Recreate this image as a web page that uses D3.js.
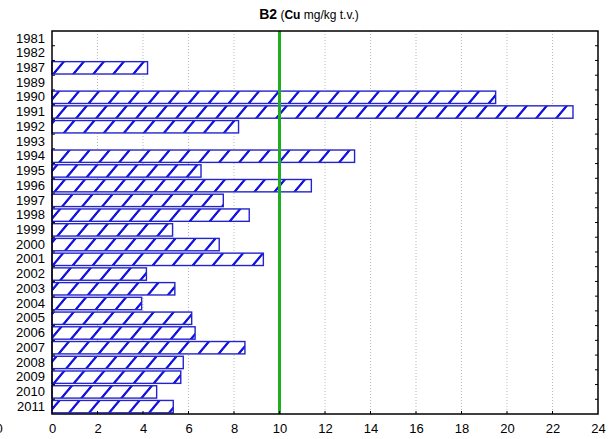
<!DOCTYPE html>
<html><head><meta charset="utf-8">
<script src="https://cdn.jsdelivr.net/npm/d3@7"></script>
<style>body{margin:0;background:#fff}svg{display:block}text{font-family:"Liberation Sans",Arial,sans-serif}</style>
</head><body><svg id="c" width="610" height="439"></svg>
<script>
const years = ["1981","1982","1987","1989","1990","1991","1992","1993","1994","1995","1996","1997","1998","1999","2000","2001","2002","2003","2004","2005","2006","2007","2008","2009","2010","2011"];
const values = [null,null,4.2,null,19.5,22.9,8.2,null,13.3,6.55,11.4,7.53,8.67,5.3,7.35,9.29,4.15,5.4,3.94,6.14,6.29,8.48,5.77,5.66,4.6,5.33];
const xTicks = [0,2,4,6,8,10,12,14,16,18,20,22,24];
const limit = 10;

const svg = d3.select("#c");
const L=52, R=598, T=31, B=414;
const x = d3.scaleLinear().domain([0,24]).range([L,R]);
const y = d3.scaleBand().domain(years).range([T,B]).paddingInner(0.16).paddingOuter(0.08);
const step = y.step();

const defs = svg.append("defs");
const pat = defs.append("pattern").attr("id","hatch").attr("patternUnits","userSpaceOnUse")
  .attr("width",20).attr("height",20).attr("patternTransform","translate(52,0) skewX(-40)");
pat.append("rect").attr("width",20).attr("height",20).attr("fill","#fff");
pat.append("rect").attr("x",2).attr("width",3).attr("height",20).attr("fill","#1414e0");

// grid
svg.append("g").selectAll("line").data(xTicks.filter(d=>d>0&&d<24)).join("line")
  .attr("x1",d=>x(d)).attr("x2",d=>x(d)).attr("y1",T).attr("y2",B)
  .attr("stroke","#b8b8b8").attr("stroke-dasharray","1,2");

// bars
const data = years.map((yr,i)=>({yr,v:values[i]})).filter(d=>d.v!=null);
svg.append("g").selectAll("rect").data(data).join("rect")
  .attr("x",x(0)).attr("y",d=>y(d.yr)).attr("width",d=>x(d.v)-x(0)).attr("height",y.bandwidth())
  .attr("fill","url(#hatch)").attr("stroke","#2424cc").attr("stroke-width",1.4);

// limit line
svg.append("line").attr("x1",x(limit)).attr("x2",x(limit)).attr("y1",T).attr("y2",B)
  .attr("stroke","#1fae1f").attr("stroke-width",3);

// frame
svg.append("rect").attr("x",L).attr("y",T).attr("width",R-L).attr("height",B-T)
  .attr("fill","none").attr("stroke","#000").attr("stroke-width",1.5);

// category boundary ticks (inward) on left and right
const bounds = d3.range(1,years.length).map(i=>T+i*step);
svg.append("g").selectAll("line").data(bounds).join("line")
  .attr("x1",L).attr("x2",L+3).attr("y1",d=>d).attr("y2",d=>d).attr("stroke","#000");
svg.append("g").selectAll("line").data(bounds).join("line")
  .attr("x1",R-3).attr("x2",R).attr("y1",d=>d).attr("y2",d=>d).attr("stroke","#000");

// y labels
const yAxis = d3.axisLeft(y).tickSize(0).tickPadding(7);
const gy = svg.append("g").attr("transform",`translate(${L},0)`).call(yAxis);
gy.select(".domain").remove();
gy.selectAll("text").attr("font-size",13).attr("fill","#000").style("font-family","Liberation Sans, Arial, sans-serif");

// x axis
const xAxis = d3.axisBottom(x).tickValues(xTicks).tickSize(0).tickPadding(10).tickFormat(d3.format("d"));
const gx = svg.append("g").attr("transform",`translate(0,${B})`).call(xAxis);
gx.select(".domain").remove();
gx.selectAll("text").attr("font-size",13).attr("fill","#000").style("font-family","Liberation Sans, Arial, sans-serif");
svg.append("g").selectAll("line").data(xTicks.filter(d=>d>0&&d<24)).join("line")
  .attr("x1",d=>x(d)).attr("x2",d=>x(d)).attr("y1",B-3).attr("y2",B).attr("stroke","#000");

// stray clipped label at far left (clipped in the reference too)
svg.append("text").attr("x",-1).attr("y",B+10).attr("dy","0.71em").attr("text-anchor","middle")
  .attr("font-size",13).text("0");

// title
const t = svg.append("text").attr("x",309).attr("y",19).attr("text-anchor","middle");
t.append("tspan").attr("font-size",14).attr("font-weight","bold").text("B2");
t.append("tspan").attr("font-size",12).text(" (");
t.append("tspan").attr("font-size",12).attr("font-weight","bold").text("Cu");
t.append("tspan").attr("font-size",12).text(" mg/kg t.v.)");
</script></body></html>
